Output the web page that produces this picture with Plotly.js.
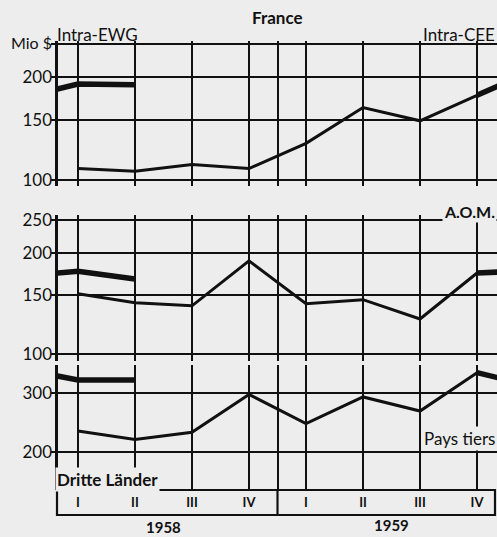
<!DOCTYPE html>
<html>
<head>
<meta charset="utf-8">
<script src="https://cdn.plot.ly/plotly-3.0.1.min.js"></script>
<style>
html,body{margin:0;padding:0;background:#ededed;}
#chart{width:497px;height:537px;}
</style>
</head>
<body>
<div id="chart"></div>
<script>
// ---- data (Mio $) ----
var quarterPos   = [1, 2, 3, 4, 5, 6, 7, 8];
var quarterLabels = ['I', 'II', 'III', 'IV', 'I', 'II', 'III', 'IV'];
var years = ['1958', '1959'];
var yearPos = [2.5, 6.5];
var yearDividerPos = 4.5;

// Intra-EWG / Intra-CEE
var intraThin = [108, 106, 111, 108, 128, 163, 149, 177];
var intraThickLeftX = [0, 1, 2];
var intraThickLeft = [174, 191, 190];
var intraThickRightX = [8, 9];
var intraThickRight = [177, 210];

// A.O.M.
var aomThin = [151, 142, 139, 189, 141, 145, 127, 174];
var aomThickLeftX = [0, 1, 2];
var aomThickLeft = [170, 176, 167];
var aomThickRightX = [8, 9];
var aomThickRight = [174, 177];

// Dritte Länder / Pays tiers
var thirdThin = [231, 218, 229, 297, 243, 292, 265, 345];
var thirdThickLeftX = [0, 1, 2];
var thirdThickLeft = [354, 328, 328];
var thirdThickRightX = [8, 9];
var thirdThickRight = [345, 314];

var tickTop = [100, 150, 200, 250];
var tickTopText = ['100', '150', '200', ''];
var tickMid = [100, 150, 200, 250];
var tickMidText = ['100', '150', '200', '250'];
var tickBot = [200, 300];
var tickBotText = ['200', '300'];

// ---- geometry helpers ----
var W = 497, H = 537;
function py(px) { return 1 - px / H; }
function pxX(px) { return px / W; }

var FONT = 'Lato, "Open Sans", sans-serif';
var INK = '#111111';
var BG = '#ededed';

var gridVals = quarterPos.slice(0, 4).concat([yearDividerPos]).concat(quarterPos.slice(4));
var gridText = quarterLabels.slice(0, 4).concat(['']).concat(quarterLabels.slice(4));

function line(x, y, xa, ya, w) {
  return {x: x, y: y, xaxis: xa, yaxis: ya, type: 'scatter', mode: 'lines',
          line: {color: INK, width: w}, hoverinfo: 'skip', showlegend: false};
}

var traces = [
  line(intraThickLeftX, intraThickLeft, 'x', 'y', 5.5),
  line(intraThickRightX, intraThickRight, 'x', 'y', 5.5),
  line(quarterPos, intraThin, 'x', 'y', 3),
  line(aomThickLeftX, aomThickLeft, 'x2', 'y2', 5.5),
  line(aomThickRightX, aomThickRight, 'x2', 'y2', 5.5),
  line(quarterPos, aomThin, 'x2', 'y2', 3),
  line(thirdThickLeftX, thirdThickLeft, 'x3', 'y3', 5.5),
  line(thirdThickRightX, thirdThickRight, 'x3', 'y3', 5.5),
  line(quarterPos, thirdThin, 'x3', 'y3', 3)
];

function xAxis(anchor, labels) {
  return {
    domain: [pxX(58), 1], range: [0.65, 8.35], anchor: anchor,
    tickmode: 'array', tickvals: gridVals, ticktext: gridText,
    showticklabels: labels, ticks: '',
    showgrid: true, gridcolor: INK, gridwidth: 2,
    zeroline: false, showline: false, fixedrange: true,
    tickfont: {family: FONT, size: 13, color: INK, weight: 'bold'},
    ticklabelstandoff: 3
  };
}
function yAxis(anchor, dom, rng, vals, txt) {
  return {
    type: 'log', domain: dom, range: rng, anchor: anchor,
    tickmode: 'array', tickvals: vals, ticktext: txt,
    showgrid: true, gridcolor: INK, gridwidth: 2,
    showline: true, linecolor: INK, linewidth: 3.5,
    ticks: 'outside', ticklen: 4, tickwidth: 2, tickcolor: INK,
    zeroline: false, fixedrange: true,
    ticklabelstandoff: -5,
    tickfont: {family: FONT, size: 17, color: INK}
  };
}

function ann(text, xref, x, ypx, xanchor, size, extra) {
  var a = {text: text, xref: xref, yref: 'paper', x: x, y: py(ypx), xanchor: xanchor, yanchor: 'middle',
           showarrow: false, font: {family: FONT, size: size, color: INK}};
  if (extra) { for (var k in extra) a[k] = extra[k]; }
  return a;
}

var layout = {
  width: W, height: H,
  margin: {l: 0, r: 0, t: 0, b: 0},
  paper_bgcolor: BG, plot_bgcolor: BG,
  showlegend: false,
  xaxis: xAxis('y', false),
  xaxis2: xAxis('y2', false),
  xaxis3: xAxis('y3', true),
  yaxis: yAxis('x', [py(186), py(41)], [1.9824, 2.4068], tickTop, tickTopText),
  yaxis2: yAxis('x2', [py(361), py(215)], [1.9792, 2.4128], tickMid, tickMidText),
  yaxis3: yAxis('x3', [py(490), py(365)], [2.1876, 2.5607], tickBot, tickBotText),
  shapes: [
    {type: 'rect', xref: 'paper', yref: 'paper', x0: pxX(57), x1: pxX(495), y0: py(515), y1: py(490),
     line: {color: INK, width: 2.2}, fillcolor: 'rgba(0,0,0,0)'},
    {type: 'line', xref: 'x3', yref: 'paper', x0: yearDividerPos, x1: yearDividerPos, y0: py(515), y1: py(490),
     line: {color: INK, width: 2.2}}
  ],
  annotations: [
    ann('<b>France</b>', 'paper', pxX(277), 18, 'center', 17),
    ann('Mio $', 'paper', pxX(54), 43, 'right', 16),
    ann('Intra-EWG', 'paper', pxX(55), 35, 'left', 17),
    ann('Intra-CEE', 'paper', 1, 35, 'right', 17),
    ann('<b>A.O.M.</b>', 'paper', 1, 211, 'right', 16, {bgcolor: BG}),
    ann('Pays tiers', 'paper', 1, 438, 'right', 17, {bgcolor: BG}),
    ann('<b>Dritte Länder</b>', 'paper', pxX(55), 479, 'left', 17, {bgcolor: BG}),
    ann('<b>' + years[0] + '</b>', 'x3', yearPos[0], 527, 'center', 15),
    ann('<b>' + years[1] + '</b>', 'x3', yearPos[1], 525, 'center', 15)
  ]
};

Plotly.newPlot('chart', traces, layout, {staticPlot: true, displayModeBar: false});
</script>
</body>
</html>
